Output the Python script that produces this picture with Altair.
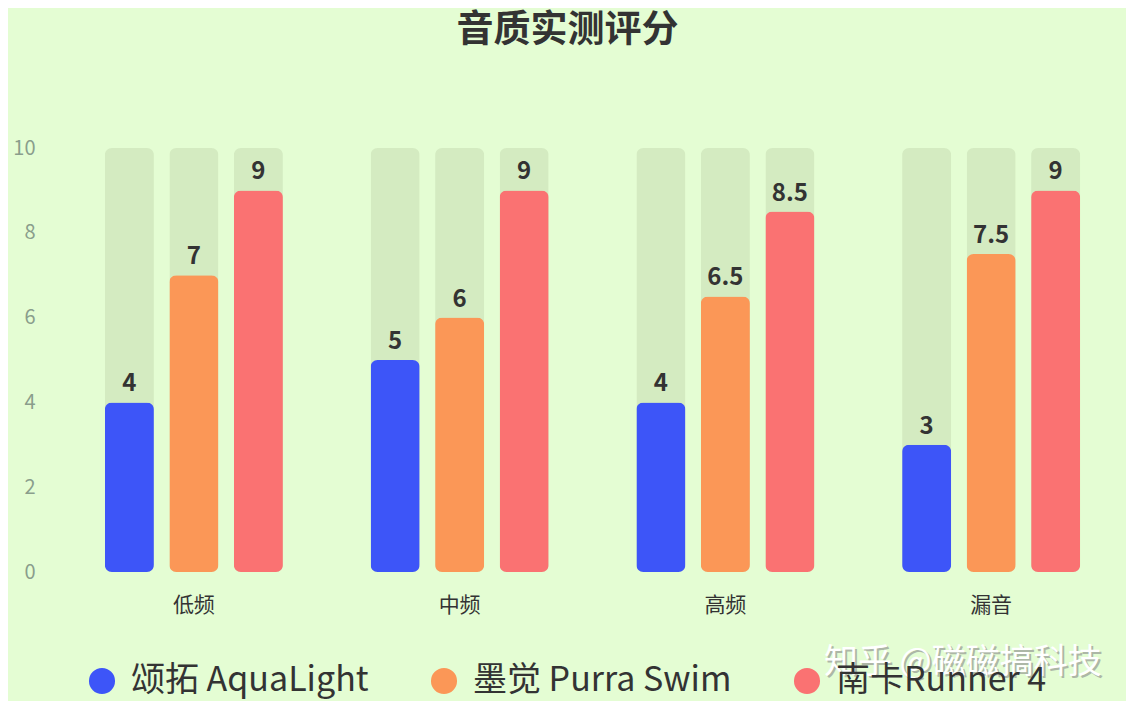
import altair as alt
import pandas as pd

categories = ["低频", "中频", "高频", "漏音"]
series = ["颂拓 AquaLight", "墨觉 Purra Swim", "南卡Runner 4"]
aqualight = [4, 5, 4, 3]
purra = [7, 6, 6.5, 7.5]
runner = [9, 9, 8.5, 9]
colors = ["#3D55F8", "#FB9757", "#FA7272"]
max_score = 10

rows = []
for s, vals in zip(series, [aqualight, purra, runner]):
    for c, v in zip(categories, vals):
        rows.append({"cat": c, "series": s, "value": v, "full": max_score,
                     "label": f"{v:g}"})
df = pd.DataFrame(rows)

FONT = "Noto Sans CJK SC"

x = alt.X("cat:N", sort=categories, title=None,
          scale=alt.Scale(paddingInner=0, paddingOuter=0),
          axis=alt.Axis(labelAngle=0, labelFontSize=21, labelColor="#333333",
                        labelFont=FONT, domain=False, ticks=False,
                        labelPadding=22))
xo = alt.XOffset("series:N", sort=series,
                 scale=alt.Scale(paddingInner=0.24, paddingOuter=0.68))

base = alt.Chart(df).encode(x=x, xOffset=xo)

bg = base.mark_bar(color="#D4EBC1", cornerRadius=7).encode(
    y=alt.Y("full:Q", title=None,
            scale=alt.Scale(domain=[0, 10]),
            axis=alt.Axis(values=[0, 2, 4, 6, 8, 10], labelFontSize=20,
                          labelColor="#8A9E8C", labelFont=FONT, domain=False,
                          ticks=False, grid=False, labelPadding=26))
)

bars = base.mark_bar(cornerRadius=7).encode(
    y=alt.Y("value:Q"),
    color=alt.Color("series:N", sort=series,
                    scale=alt.Scale(domain=series, range=colors),
                    legend=alt.Legend(title=None, orient="none",
                                      direction="horizontal",
                                      legendX=24, legendY=516,
                                      symbolType="circle", symbolSize=680,
                                      symbolStrokeWidth=0,
                                      labelFontSize=34, labelFont=FONT,
                                      labelColor="#333333",
                                      labelLimit=400, columnPadding=58,
                                      labelOffset=12))
)

labels = base.mark_text(fontSize=24, fontWeight="bold", color="#333333",
                        baseline="bottom", dy=-6, font=FONT).encode(
    y=alt.Y("value:Q"),
    text="label:N"
)

wm_shadow = alt.Chart(pd.DataFrame({"t": ["知乎 @磁磁搞科技"]})).mark_text(
    fontSize=34, font=FONT, color="#8A8A8A", opacity=0.6, align="left",
    baseline="middle").encode(x=alt.value(765), y=alt.value(517), text="t:N")
wm = alt.Chart(pd.DataFrame({"t": ["知乎 @磁磁搞科技"]})).mark_text(
    fontSize=34, font=FONT, color="#FFFFFF", align="left",
    baseline="middle").encode(x=alt.value(763), y=alt.value(515), text="t:N")

chart = alt.layer(bg, bars, labels, wm_shadow, wm).properties(
    width=1063, height=424,
    background="#E4FDD3",
    padding={"left": 53, "top": 140, "right": 2, "bottom": 129},
    autosize=alt.AutoSizeParams(type="none"),
    title=alt.TitleParams("音质实测评分", fontSize=37, fontWeight="bold",
                          color="#333333", font=FONT, anchor="middle",
                          dx=-25, offset=88)
).configure_view(stroke=None)

chart.save("out.html", embed_options={"renderer": "svg", "actions": False})
